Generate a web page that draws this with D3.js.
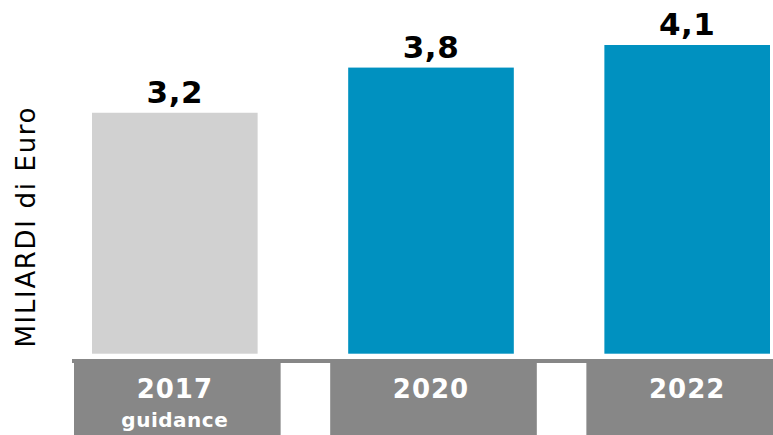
<!DOCTYPE html>
<html>
<head>
<meta charset="utf-8">
<script src="https://cdn.jsdelivr.net/npm/d3@7"></script>
<style>
  html, body { margin: 0; padding: 0; background: #ffffff; }
  svg { display: block; }
  text { font-family: Verdana, "DejaVu Sans", sans-serif; }
</style>
</head>
<body>
<svg id="chart" width="773" height="435"></svg>
<script>
const categories = ["2017", "2020", "2022"];
const subLabels = ["guidance", "", ""];
const values = [3.2, 3.8, 4.1];
const valueLabels = ["3,2", "3,8", "4,1"];
const barColors = ["#d1d1d1", "#0091c0", "#0091c0"];
const yAxisTitle = "MILIARDI di Euro";

const W = 773, H = 435;
const svg = d3.select("#chart");

const x = d3.scaleBand().domain(categories).range([92, 770]).paddingInner(0.3535).paddingOuter(0);
const y = d3.scaleLinear().domain([0, 4.1]).range([353.7, 45]);

const data = categories.map((c, i) => ({ c, v: values[i], lab: valueLabels[i], sub: subLabels[i], col: barColors[i] }));

// bars
svg.selectAll("rect.bar").data(data).join("rect")
  .attr("class", "bar")
  .attr("x", d => x(d.c))
  .attr("y", d => y(d.v))
  .attr("width", x.bandwidth())
  .attr("height", d => y(0) - y(d.v))
  .attr("fill", d => d.col);

// value labels
svg.selectAll("text.val").data(data).join("text")
  .attr("class", "val")
  .attr("x", d => x(d.c) + x.bandwidth() / 2)
  .attr("y", d => y(d.v) - 10)
  .attr("text-anchor", "middle")
  .attr("font-size", 31)
  .attr("font-weight", "bold")
  .attr("letter-spacing", 0.5)
  .attr("fill", "#000")
  .text(d => d.lab);

// category strip
const stripTop = y(0) + 5.3;
svg.append("rect")
  .attr("x", 72).attr("y", stripTop)
  .attr("width", W - 72).attr("height", 4)
  .attr("fill", "#878787");

svg.selectAll("rect.box").data(data).join("rect")
  .attr("class", "box")
  .attr("x", d => x(d.c) - 18)
  .attr("y", stripTop + 3.5)
  .attr("width", d => Math.min(x.bandwidth() + 41, W - (x(d.c) - 18)))
  .attr("height", H - stripTop)
  .attr("fill", "#878787");

svg.selectAll("text.cat").data(data).join("text")
  .attr("class", "cat")
  .attr("x", d => x(d.c) + x.bandwidth() / 2)
  .attr("y", 398)
  .attr("text-anchor", "middle")
  .attr("font-size", 26)
  .attr("font-weight", "bold")
  .attr("letter-spacing", 1)
  .attr("fill", "#ffffff")
  .text(d => d.c);

svg.selectAll("text.sub").data(data.filter(d => d.sub)).join("text")
  .attr("class", "sub")
  .attr("x", d => x(d.c) + x.bandwidth() / 2)
  .attr("y", 427)
  .attr("text-anchor", "middle")
  .attr("font-size", 20)
  .attr("font-weight", "bold")
  .attr("letter-spacing", 0.5)
  .attr("fill", "#ffffff")
  .text(d => d.sub);

// y axis title
svg.append("text")
  .attr("transform", "translate(35,227.5) rotate(-90)")
  .attr("text-anchor", "middle")
  .attr("font-size", 26)
  .attr("fill", "#000")
  .attr("textLength", 240)
  .attr("lengthAdjust", "spacing")
  .text(yAxisTitle);
</script>
</body>
</html>
